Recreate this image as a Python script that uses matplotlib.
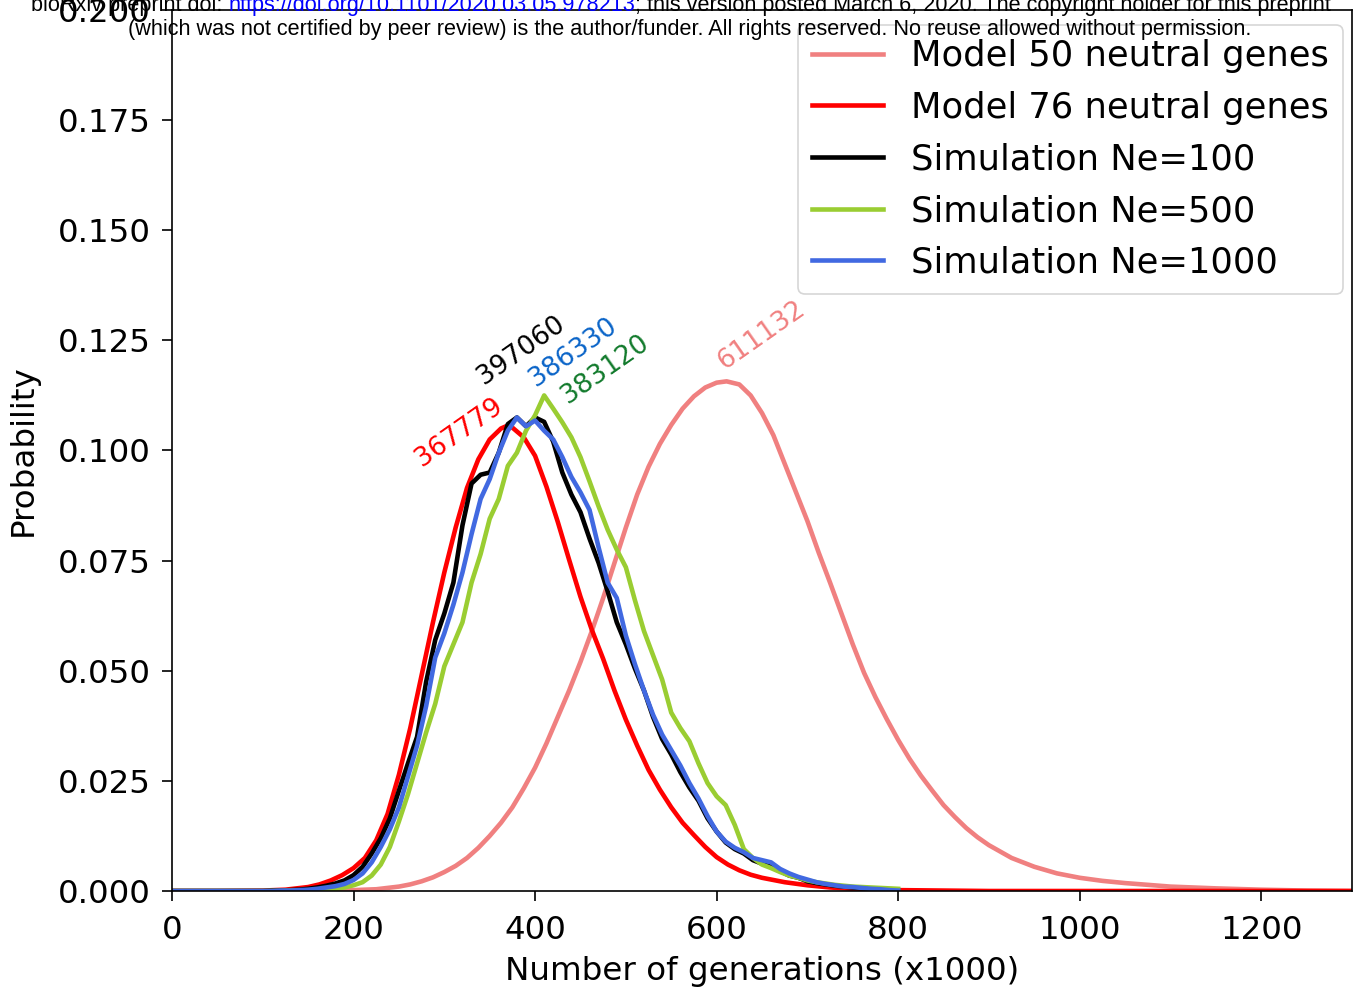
import matplotlib

matplotlib.use("Agg")
import matplotlib.pyplot as plt

# ---- data (x in thousands of generations) ----
MODEL50_X = [0, 100, 150, 175, 200, 212.5, 225, 237.5, 250, 262.5, 275, 287.5, 300, 312.5,
             325, 337.5, 350, 362.5, 375, 387.5, 400, 412.5, 425, 437.5, 450, 462.5, 475,
             487.5, 500, 512.5, 525, 537.5, 550, 562.5, 575, 587.5, 600, 611, 625, 637.5,
             650, 662.5, 675, 687.5, 700, 712.5, 725, 737.5, 750, 762.5, 775, 787.5, 800,
             812.5, 825, 837.5, 850, 862.5, 875, 887.5, 900, 925, 950, 975, 1000, 1025,
             1050, 1100, 1150, 1200, 1250, 1300]
MODEL50_Y = [0.0, 0.0, 0.0, 0.0001, 0.0002, 0.0003, 0.0004, 0.0007, 0.001, 0.0015, 0.0022,
             0.0031, 0.0043, 0.0057, 0.0075, 0.0098, 0.0125, 0.0155, 0.019, 0.0233, 0.028,
             0.0335, 0.0395, 0.0455, 0.052, 0.059, 0.0665, 0.0745, 0.0825, 0.090, 0.0963,
             0.1015, 0.1058, 0.1095, 0.1123, 0.1143, 0.1154, 0.1157, 0.1150, 0.1125,
             0.1085, 0.1035, 0.097, 0.0905, 0.084, 0.0768, 0.070, 0.063, 0.056, 0.0495,
             0.044, 0.039, 0.0343, 0.030, 0.0262, 0.0228, 0.0195, 0.0168, 0.0143, 0.0122,
             0.0104, 0.0075, 0.0055, 0.004, 0.003, 0.0023, 0.0018, 0.001, 0.0006, 0.0003,
             0.0001, 0.0]

MODEL76_X = [0, 50, 100, 125, 150, 162.5, 175, 187.5, 200, 212.5, 225, 237.5, 250, 262.5,
             275, 287.5, 300, 312.5, 325, 337.5, 350, 362.5, 368, 375, 387.5, 400, 412.5,
             425, 437.5, 450, 462.5, 475, 487.5, 500, 512.5, 525, 537.5, 550, 562.5, 575,
             587.5, 600, 612.5, 625, 637.5, 650, 675, 700, 725, 750, 800, 850, 900, 1300]
MODEL76_Y = [0.0, 0.0, 0.0001, 0.0003, 0.0009, 0.0015, 0.0024, 0.0036, 0.0052, 0.0075,
             0.0115, 0.0175, 0.0264, 0.037, 0.049, 0.061, 0.0723, 0.0825, 0.0915, 0.098,
             0.1025, 0.105, 0.1055, 0.1052, 0.1030, 0.0988, 0.0918, 0.0838, 0.0752, 0.0668,
             0.0593, 0.0527, 0.0455, 0.0389, 0.033, 0.0275, 0.023, 0.019, 0.0155, 0.0127,
             0.0100, 0.0077, 0.006, 0.0047, 0.0037, 0.003, 0.002, 0.0013, 0.0008, 0.0005,
             0.0002, 0.0001, 0.0, 0.0]

SIM_X = list(range(0, 801, 10))
SIM_NE100 = [0, 0, 0, 0, 0, 0, 0, 0, 0, 0, 0,
             0.0001, 0.0001, 0.0002, 0.0003, 0.0005, 0.0008, 0.0012, 0.0017, 0.0024,
             0.0036, 0.0055, 0.0085, 0.012, 0.0165, 0.0228, 0.029, 0.035, 0.0475, 0.057,
             0.063, 0.070, 0.083, 0.0925, 0.0945, 0.095, 0.0995, 0.106, 0.1075, 0.1055,
             0.1075, 0.1065, 0.102, 0.095, 0.090, 0.086, 0.080, 0.0745, 0.068, 0.061,
             0.056, 0.0505, 0.0455, 0.0395, 0.0345, 0.031, 0.027, 0.0235, 0.0205, 0.0165,
             0.0135, 0.011, 0.0095, 0.0085, 0.007, 0.0062, 0.0055, 0.0045, 0.0035, 0.003,
             0.0022, 0.0018, 0.0015, 0.0012, 0.001, 0.0008, 0.0006, 0.0005, 0.0003, 0.0002,
             0.0001]
SIM_NE500 = [0, 0, 0, 0, 0, 0, 0, 0, 0, 0, 0,
             0.0, 0.0, 0.0001, 0.0001, 0.0001, 0.0002, 0.0003, 0.0005, 0.0008,
             0.0013, 0.002, 0.0035, 0.006, 0.010, 0.0158, 0.022, 0.029, 0.036, 0.0425,
             0.051, 0.056, 0.061, 0.070, 0.0765, 0.0845, 0.089, 0.0965, 0.0995, 0.1045,
             0.108, 0.1125, 0.1095, 0.1064, 0.103, 0.0985, 0.093, 0.0873, 0.082, 0.0775,
             0.0735, 0.066, 0.059, 0.0535, 0.048, 0.0405, 0.037, 0.034, 0.029, 0.0245,
             0.0215, 0.0195, 0.015, 0.0095, 0.0075, 0.006, 0.0052, 0.0043, 0.0035, 0.003,
             0.0024, 0.002, 0.0017, 0.0014, 0.0012, 0.001, 0.0009, 0.0008, 0.0007, 0.0006,
             0.0005]
SIM_NE1000 = [0, 0, 0, 0, 0, 0, 0, 0, 0, 0, 0,
              0.0, 0.0001, 0.0001, 0.0002, 0.0003, 0.0005, 0.0008, 0.0011, 0.0016,
              0.0025, 0.004, 0.0065, 0.010, 0.014, 0.019, 0.026, 0.033, 0.042, 0.053,
              0.0585, 0.065, 0.0723, 0.081, 0.089, 0.0935, 0.0995, 0.1045, 0.1075, 0.1055,
              0.1068, 0.1045, 0.1025, 0.0985, 0.094, 0.0905, 0.0865, 0.078, 0.070, 0.0665,
              0.058, 0.0515, 0.0455, 0.040, 0.0355, 0.032, 0.0285, 0.0245, 0.021, 0.017,
              0.0135, 0.0112, 0.0098, 0.0088, 0.0075, 0.007, 0.0065, 0.005, 0.004, 0.0032,
              0.0026, 0.002, 0.0016, 0.0013, 0.001, 0.0009, 0.0007, 0.0005, 0.0004, 0.0002,
              0.0001]

SERIES = [
    ("Model 50 neutral genes", MODEL50_X, MODEL50_Y, "lightcoral"),
    ("Model 76 neutral genes", MODEL76_X, MODEL76_Y, "red"),
    ("Simulation Ne=100", SIM_X, SIM_NE100, "black"),
    ("Simulation Ne=500", SIM_X, SIM_NE500, "yellowgreen"),
    ("Simulation Ne=1000", SIM_X, SIM_NE1000, "royalblue"),
]

# peak annotations: text, x, y, colour
ANNOT_TEXT = ["367779", "397060", "386330", "383120", "611132"]
ANNOT_X = [316, 385, 442, 477, 649]
ANNOT_Y = [0.1041, 0.1228, 0.1222, 0.1185, 0.1261]
ANNOT_COLORS = ["red", "black", "#0a64c8", "#127a2c", "lightcoral"]

W, H = 1362, 996
fig = plt.figure(figsize=(W / 100, H / 100), dpi=100)
ax = fig.add_axes([172 / W, 105 / H, 1180 / W, 881 / H])

for label, xs, ys, color in SERIES:
    ax.plot(xs, ys, color=color, lw=3.3, label=label)

for text, x, y, color in zip(ANNOT_TEXT, ANNOT_X, ANNOT_Y, ANNOT_COLORS):
    ax.text(x, y, text, color=color, fontsize=19, rotation=35,
            ha="center", va="center")

ax.set_xlim(0, 1300)
ax.set_ylim(0, 0.2)
ax.set_xticks(range(0, 1201, 200))
ax.set_yticks([i * 0.025 for i in range(9)])
ax.tick_params(labelsize=23.4, length=7.2, width=1.2)
ax.tick_params(axis="x", pad=10)
ax.tick_params(axis="y", pad=8)
for spine in ax.spines.values():
    spine.set_linewidth(1.2)
ax.set_xlabel("Number of generations (x1000)", fontsize=23.4, labelpad=7)
ax.set_ylabel("Probability", fontsize=23.4, labelpad=14)

leg = ax.legend(loc="upper right", fontsize=25.4, labelspacing=0.5,
                handlelength=2.0, borderaxespad=0,
                bbox_to_anchor=((1343 - 172) / 1180, (891 - 25) / 881))
leg.get_frame().set_linewidth(1.2)
for line in leg.get_lines():
    line.set_linewidth(3.3)

# bioRxiv header
hdr_font = dict(family=["Liberation Sans", "DejaVu Sans"], fontsize=15.6)
fig.text(690 / W, 1 - 29 / H, "(which was not certified by peer review) is the author/funder. "
         "All rights reserved. No reuse allowed without permission.",
         ha="center", va="center", **hdr_font)

parts = [("bioRxiv preprint doi: ", "black"),
         ("https://doi.org/10.1101/2020.03.05.978213", "blue"),
         ("; this version posted March 6, 2020. The copyright holder for this preprint", "black")]
fig.canvas.draw()
renderer = fig.canvas.get_renderer()
pieces = []
widths = []
for txt, col in parts:
    t = fig.text(0, 1 - 6 / H, txt, color=col, ha="left", va="center", **hdr_font)
    widths.append(t.get_window_extent(renderer).width)
    pieces.append(t)
x0 = (W - sum(widths)) / 2
for t, w in zip(pieces, widths):
    t.set_x(x0 / W)
    x0 += w

fig.savefig("out.png", dpi=100)
